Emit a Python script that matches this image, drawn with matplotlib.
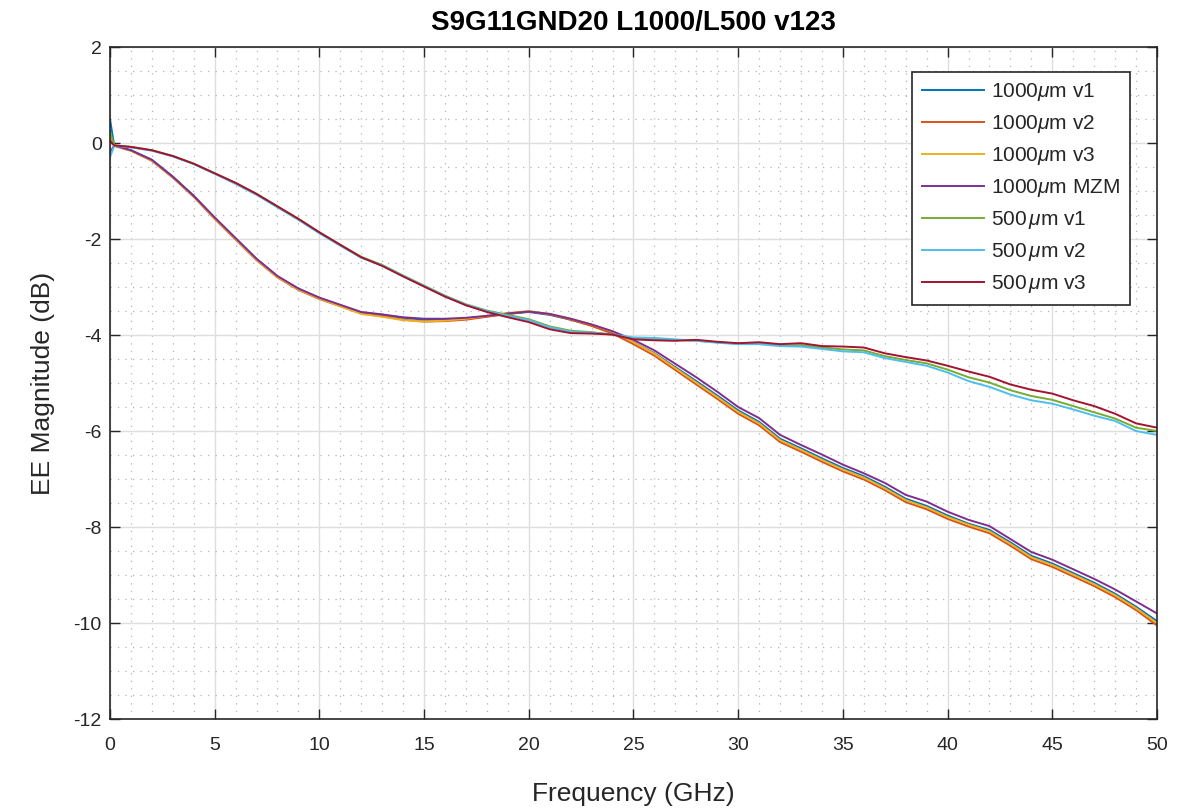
import matplotlib
matplotlib.use('Agg')
import matplotlib.pyplot as plt
from matplotlib.ticker import MultipleLocator

# fonts (MATLAB-ish look)
plt.rcParams['font.family'] = ['Liberation Sans', 'DejaVu Sans']
plt.rcParams['mathtext.fontset'] = 'custom'
plt.rcParams['mathtext.it'] = 'Liberation Sans:italic'
plt.rcParams['mathtext.rm'] = 'Liberation Sans'
plt.rcParams['axes.unicode_minus'] = False

# data (GHz / dB)
freq = [0, 0.2, *range(1, 51)]

l1000_v1 = [0.50, -0.05, -0.15, -0.35, -0.70, -1.10, -1.56, -1.99, -2.42, -2.78, -3.04, -3.23, -3.38,
            -3.53, -3.58, -3.64, -3.68, -3.68, -3.66, -3.61, -3.56, -3.52, -3.58, -3.68, -3.80, -3.95,
            -4.15, -4.38, -4.67, -4.96, -5.26, -5.57, -5.81, -6.16, -6.36, -6.57, -6.77, -6.94, -7.16,
            -7.41, -7.56, -7.76, -7.93, -8.06, -8.32, -8.60, -8.76, -8.96, -9.16, -9.39, -9.66, -9.96]
l1000_v2 = [0.10, -0.06, -0.16, -0.37, -0.72, -1.12, -1.58, -2.01, -2.44, -2.80, -3.06, -3.25, -3.40,
            -3.55, -3.61, -3.68, -3.72, -3.71, -3.68, -3.62, -3.56, -3.51, -3.57, -3.68, -3.81, -3.97,
            -4.19, -4.43, -4.73, -5.03, -5.33, -5.64, -5.88, -6.23, -6.43, -6.64, -6.84, -7.01, -7.23,
            -7.48, -7.63, -7.83, -7.99, -8.13, -8.39, -8.67, -8.83, -9.03, -9.23, -9.46, -9.73, -10.05]
l1000_v3 = [0.15, -0.05, -0.16, -0.36, -0.71, -1.11, -1.57, -2.00, -2.43, -2.79, -3.05, -3.24, -3.40,
            -3.56, -3.62, -3.69, -3.72, -3.70, -3.66, -3.60, -3.54, -3.50, -3.56, -3.66, -3.78, -3.93,
            -4.15, -4.39, -4.69, -4.99, -5.29, -5.60, -5.84, -6.19, -6.39, -6.60, -6.80, -6.97, -7.19,
            -7.44, -7.59, -7.79, -7.95, -8.09, -8.35, -8.63, -8.79, -8.99, -9.19, -9.42, -9.69, -10.00]
l1000_mzm = [-0.20, -0.05, -0.15, -0.35, -0.70, -1.10, -1.55, -1.98, -2.41, -2.77, -3.03, -3.22, -3.37,
             -3.52, -3.57, -3.63, -3.66, -3.66, -3.64, -3.60, -3.55, -3.51, -3.56, -3.66, -3.78, -3.92,
             -4.10, -4.32, -4.60, -4.88, -5.18, -5.50, -5.73, -6.08, -6.29, -6.49, -6.70, -6.88, -7.08,
             -7.33, -7.47, -7.68, -7.85, -7.98, -8.25, -8.52, -8.68, -8.88, -9.08, -9.30, -9.55, -9.80]
l500_v1 = [0.25, -0.05, -0.08, -0.15, -0.27, -0.43, -0.63, -0.83, -1.06, -1.32, -1.58, -1.86, -2.12,
           -2.37, -2.54, -2.76, -2.97, -3.18, -3.36, -3.49, -3.58, -3.67, -3.82, -3.91, -3.94, -3.99,
           -4.07, -4.08, -4.10, -4.12, -4.15, -4.18, -4.18, -4.22, -4.21, -4.26, -4.30, -4.32, -4.44,
           -4.52, -4.59, -4.72, -4.88, -4.99, -5.15, -5.27, -5.35, -5.48, -5.61, -5.74, -5.93, -6.00]
l500_v2 = [-0.30, -0.06, -0.09, -0.16, -0.28, -0.44, -0.64, -0.85, -1.08, -1.34, -1.60, -1.88, -2.14,
           -2.39, -2.55, -2.77, -2.98, -3.19, -3.37, -3.50, -3.60, -3.69, -3.84, -3.93, -3.95, -3.99,
           -4.05, -4.06, -4.09, -4.12, -4.16, -4.19, -4.19, -4.23, -4.24, -4.29, -4.34, -4.36, -4.48,
           -4.56, -4.64, -4.78, -4.96, -5.08, -5.24, -5.36, -5.43, -5.55, -5.68, -5.79, -6.00, -6.08]
l500_v3 = [0.05, -0.05, -0.08, -0.15, -0.27, -0.43, -0.63, -0.83, -1.06, -1.32, -1.58, -1.86, -2.12,
           -2.38, -2.56, -2.78, -2.99, -3.20, -3.38, -3.52, -3.63, -3.73, -3.88, -3.96, -3.97, -3.99,
           -4.09, -4.11, -4.12, -4.10, -4.14, -4.17, -4.15, -4.19, -4.17, -4.23, -4.24, -4.26, -4.38,
           -4.46, -4.53, -4.64, -4.76, -4.87, -5.03, -5.14, -5.22, -5.36, -5.48, -5.64, -5.84, -5.93]

labels = [r'1000$\mu$m v1', r'1000$\mu$m v2', r'1000$\mu$m v3', r'1000$\mu$m MZM',
          r'500$\,\mu$m v1', r'500$\,\mu$m v2', r'500$\,\mu$m v3']
series = [l1000_v1, l1000_v2, l1000_v3, l1000_mzm, l500_v1, l500_v2, l500_v3]
colors = ['#0072BD', '#D95319', '#EDB120', '#7E2F8E', '#77AC30', '#4DBEEE', '#A2142F']

dark = '#262626'

fig = plt.figure(figsize=(11.94, 8.11), dpi=100)
ax = fig.add_axes([0.0921, 0.1134, 0.8769, 0.8286])

for vals, lab, c in zip(series, labels, colors):
    ax.plot(freq, vals, color=c, lw=1.4, label=lab)

ax.set_xlim(0, 50)
ax.set_ylim(-12, 2)
ax.xaxis.set_major_locator(MultipleLocator(5))
ax.xaxis.set_minor_locator(MultipleLocator(1))
ax.yaxis.set_major_locator(MultipleLocator(2))
ax.yaxis.set_minor_locator(MultipleLocator(0.5))

# grids
ax.grid(which='major', color='#dedede', lw=1.0, ls='-')
ax.grid(which='minor', color='#b5b5b5', lw=0.9, ls=(0, (1, 5)))
ax.set_axisbelow(True)

ax.tick_params(which='major', direction='in', length=7, width=1.0, top=True, right=True,
               labelsize=14, colors=dark, pad=6)
ax.tick_params(axis='x', which='major', pad=13)
ax.tick_params(which='minor', length=0, top=True, right=True)
for s in ax.spines.values():
    s.set_color(dark)
    s.set_linewidth(1.2)

ax.set_xlabel('Frequency (GHz)', fontsize=19, color=dark, labelpad=20)
ax.set_ylabel('EE Magnitude (dB)', fontsize=19, color=dark, labelpad=13)
ax.set_title('S9G11GND20 L1000/L500 v123', fontsize=20, fontweight='bold', color='black', pad=12)

leg = ax.legend(loc='upper right', bbox_to_anchor=(0.974, 0.963), borderaxespad=0, fontsize=15,
                handlelength=3.0, labelspacing=0.48, borderpad=0.45, handletextpad=0.35,
                fancybox=False, framealpha=1, edgecolor=dark)
leg.get_frame().set_linewidth(1.2)
for t in leg.get_texts():
    t.set_color(dark)

fig.savefig('out.png', dpi=100)
